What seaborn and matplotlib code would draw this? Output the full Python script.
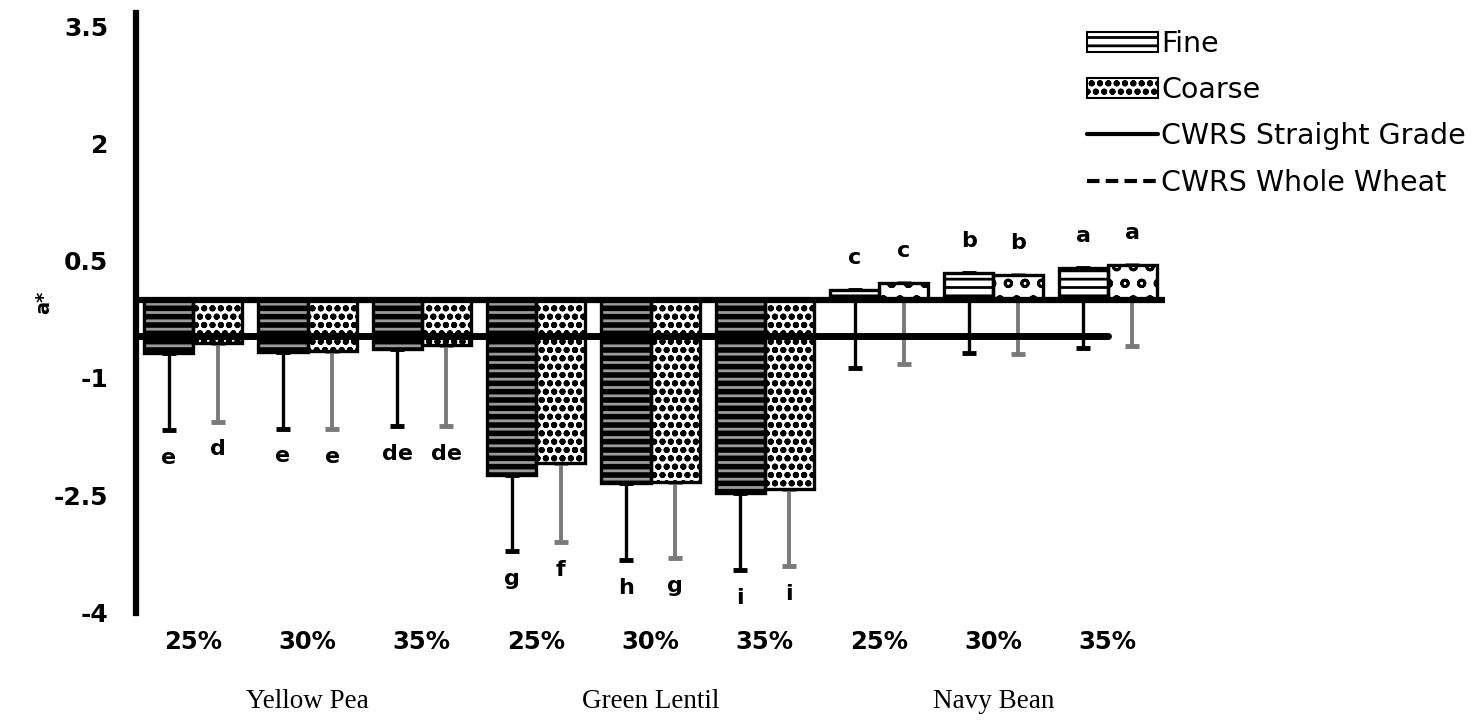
import matplotlib
matplotlib.use("Agg")
import matplotlib.pyplot as plt
import matplotlib.transforms as mtransforms
from matplotlib.patches import Patch
from matplotlib.lines import Line2D
import seaborn as sns
import pandas as pd

# ---------------- data ----------------
pulses = ["Yellow Pea", "Yellow Pea", "Yellow Pea",
          "Green Lentil", "Green Lentil", "Green Lentil",
          "Navy Bean", "Navy Bean", "Navy Bean"]
levels = ["25%", "30%", "35%", "25%", "30%", "35%", "25%", "30%", "35%"]
fine = [-0.68, -0.67, -0.63, -2.24, -2.35, -2.48, 0.13, 0.34, 0.41]
coarse = [-0.56, -0.65, -0.58, -2.09, -2.33, -2.42, 0.21, 0.32, 0.45]
fine_err = [0.99, 0.98, 0.99, 0.98, 0.98, 0.98, 1.01, 1.02, 1.03]
coarse_err = [1.00, 1.01, 1.04, 1.01, 0.98, 0.99, 1.03, 1.02, 1.04]
fine_letters = ["e", "e", "de", "g", "h", "i", "c", "b", "a"]
coarse_letters = ["d", "e", "de", "f", "g", "i", "c", "b", "a"]
group_names = ["Yellow Pea", "Green Lentil", "Navy Bean"]
straight_grade = -0.47
whole_wheat = 0.0
y_ticks = [-4, -2.5, -1, 0.5, 2, 3.5]
y_tick_labels = ["-4", "-2.5", "-1", "0.5", "2", "3.5"]

cats = [f"{p} {l}" for p, l in zip(pulses, levels)]
df = pd.DataFrame({
    "cat": cats * 2,
    "size": ["Fine"] * 9 + ["Coarse"] * 9,
    "value": fine + coarse,
})

# ---------------- figure ----------------
sns.set_style("white")
plt.rcParams["font.family"] = ["DejaVu Sans"]
plt.rcParams["hatch.linewidth"] = 2.0
for k in ["text.color", "axes.labelcolor", "xtick.color", "ytick.color"]:
    plt.rcParams[k] = "black"

fig = plt.figure(figsize=(14.82, 7.21), dpi=100)
ax = fig.add_axes([136 / 1482, 108 / 721, 1029 / 1482, 600 / 721])

sns.barplot(data=df, x="cat", y="value", hue="size", order=cats,
            hue_order=["Fine", "Coarse"], palette={"Fine": "white", "Coarse": "white"},
            width=0.86, gap=0, errorbar=None, legend=False, ax=ax, zorder=2)

bars = sorted(ax.patches, key=lambda p: p.get_x())
fine_bars = bars[0::2]
coarse_bars = bars[1::2]

def style(p, face, hatch, hcolor):
    p.set_facecolor(face)
    p.set_hatch(hatch)
    p.set_edgecolor(hcolor)
    p.set_linewidth(0)

for p, v in zip(fine_bars, fine):
    if v < 0:
        style(p, "black", "--", "#9a9a9a")
    else:
        style(p, "white", "--", "black")
for p, v in zip(coarse_bars, coarse):
    style(p, "white", "oo" if v < 0 else "o", "black")

fx = [p.get_x() + p.get_width() / 2 for p in fine_bars]
cx = [p.get_x() + p.get_width() / 2 for p in coarse_bars]
bw = fine_bars[0].get_width()

# borders
ax.bar(fx, fine, width=bw, fill=False, edgecolor="black", linewidth=2.4, zorder=2.1)
ax.bar(cx, coarse, width=bw, fill=False, edgecolor="black", linewidth=2.4, zorder=2.1)

# one-sided (downward) error bars, drawn behind bars
ax.errorbar(fx, fine, yerr=[fine_err, [0] * 9], fmt="none", ecolor="black",
            elinewidth=2.4, capsize=5, capthick=3.5, zorder=1)
eb = ax.errorbar(cx, coarse, yerr=[coarse_err, [0] * 9], fmt="none", ecolor="#7a7a7a",
                 elinewidth=2.8, capsize=5, capthick=3.5, zorder=1)
for cap in eb[1]:
    cap.set_color("black")

# reference lines
ax.plot([-0.5, len(cats) - 1.0], [whole_wheat, whole_wheat], color="black", lw=3,
        ls=(0, (3, 1.5)), zorder=2.9)
ax.axhline(0, color="black", lw=4.5, zorder=3)
ax.plot([-0.5, len(cats) - 1.0], [straight_grade, straight_grade], color="black", lw=5,
        solid_capstyle="round", zorder=4)

# letters
for x, v, e, t in zip(fx + cx, fine + coarse, fine_err + coarse_err,
                      fine_letters + coarse_letters):
    if v < 0:
        ax.annotate(t, (x, v - e), xytext=(0, -20), textcoords="offset points",
                    ha="center", va="center", fontsize=16, fontweight="bold")
    else:
        ax.annotate(t, (x, v), xytext=(0, 23), textcoords="offset points",
                    ha="center", va="center", fontsize=16, fontweight="bold")

# axes styling
ax.set_xlim(-0.5, len(cats) - 0.5)
ax.set_ylim(-4.01, 3.67)
ax.set_yticks(y_ticks)
ax.set_yticklabels(y_tick_labels)
ax.set_xticks(range(len(cats)))
ax.set_xticklabels(levels)
for lab in ax.get_yticklabels():
    lab.set_fontweight("bold")
    lab.set_fontsize(18)
for lab in ax.get_xticklabels():
    lab.set_fontweight("bold")
    lab.set_fontsize(17.5)
ax.tick_params(axis="both", length=0)
ax.tick_params(axis="y", pad=20)
ax.tick_params(axis="x", pad=12)
for s in ["top", "right", "bottom"]:
    ax.spines[s].set_visible(False)
ax.spines["left"].set_linewidth(4.5)
ax.spines["left"].set_color("black")
ax.set_xlabel("")
ax.set_ylabel("a*", fontsize=14, fontweight="bold")
ax.yaxis.set_label_coords(-0.081, 0.517)

# group labels
trans = mtransforms.blended_transform_factory(ax.transData, ax.transAxes)
for i, g in enumerate(group_names):
    ax.text(3 * i + 1, -0.148, g, transform=trans, ha="center", va="center",
            fontsize=19.5, family=["Liberation Serif"])

# legend
handles = [
    Patch(facecolor="white", edgecolor="black", hatch="--", linewidth=1.5, label="Fine"),
    Patch(facecolor="white", edgecolor="black", hatch="oo", linewidth=1.5, label="Coarse"),
    Line2D([], [], color="black", lw=3, label="CWRS Straight Grade"),
    Line2D([], [], color="black", lw=3, ls=(0, (3, 1.5)), label="CWRS Whole Wheat"),
]
fig.legend(handles=handles, loc="upper left", bbox_to_anchor=(1087 / 1482, 1 - 30 / 721),
           frameon=False, fontsize=20.5, handlelength=2.5, handletextpad=0.1,
           labelspacing=0.64, borderpad=0, borderaxespad=0)

fig.savefig("out.png", dpi=100)
